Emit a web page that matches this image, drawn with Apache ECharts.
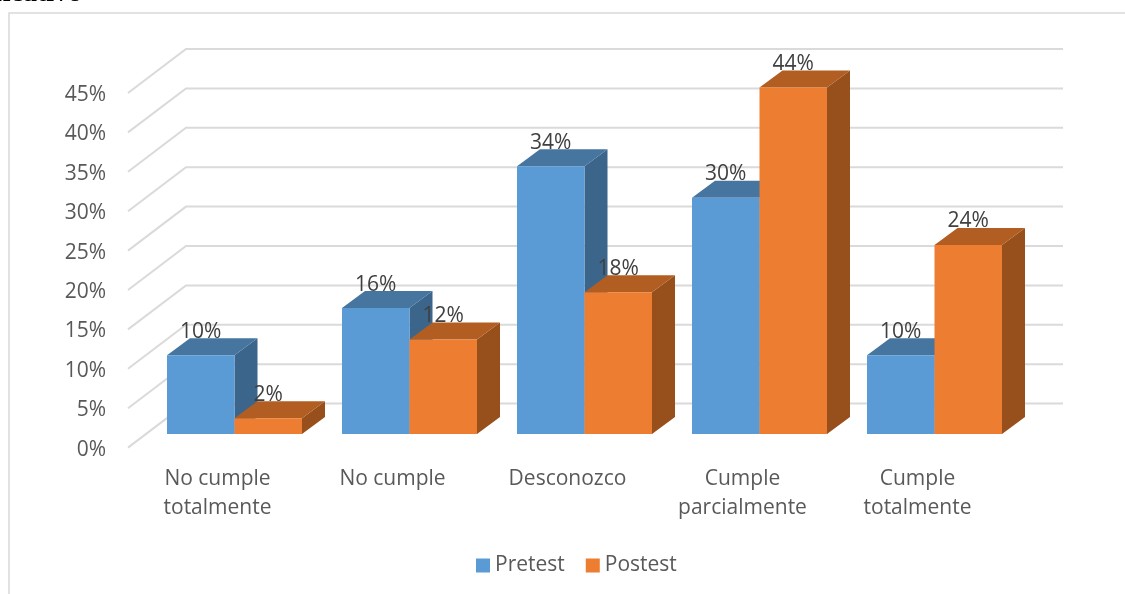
<!DOCTYPE html>
<html><head><meta charset="utf-8">
<style>html,body{margin:0;padding:0;background:#fff}#c{width:1125px;height:594px}</style>
<script src="https://cdn.jsdelivr.net/npm/echarts@6/dist/echarts.min.js"></script>
</head><body><div id="c"></div>
<script>
const categories = ['No cumple\ntotalmente','No cumple','Desconozco','Cumple\nparcialmente','Cumple\ntotalmente'];
const pretest = [10,16,34,30,10];
const postest = [2,12,18,44,24];
const yTicks = [0,5,10,15,20,25,30,35,40,45];
const FONT = '"Open Sans"';
const BLUE = ['#5B9BD5','#4675A0','#3B658B'];
const ORANGE = ['#ED7D31','#B25E22','#974F1B'];

function bar3d(side, colors){
  return function(params, api){
    const base = api.coord([api.value(0), 0]);
    const top = api.coord([api.value(0), api.value(1)]);
    const catW = api.size([1,0])[0];
    const w = catW * 0.3857;
    const sx = 17, sy = -15.5, dx = 23, dy = -17;
    const x0 = base[0] + sx + (side === 0 ? -w : 0);
    const x1 = x0 + w, yb = base[1] + sy, yt = top[1] + sy;
    const poly = (pts, fill) => ({type:'polygon', shape:{points:pts}, style:{fill:fill}});
    return {type:'group', children:[
      poly([[x1,yb],[x1+dx,yb+dy],[x1+dx,yt+dy],[x1,yt]], colors[2]),
      poly([[x0,yt],[x0+dx,yt+dy],[x1+dx,yt+dy],[x1,yt]], colors[1]),
      poly([[x0,yb],[x1,yb],[x1,yt],[x0,yt]], colors[0]),
      {type:'text', z2:50, style:{text:api.value(1)+'%', x:(x0+x1)/2, y:yt-23.5, align:'center', verticalAlign:'middle',
        fill:'#404040', font:'21px '+FONT}}
    ]};
  };
}
function wall(params, api){
  const p = api.coord([0, api.value(1)]);
  const left = params.coordSys.x - 2, right = params.coordSys.x + params.coordSys.width;
  const y0 = p[1] - 2, dx = 58, dy = -44;
  return {type:'polyline', shape:{points:[[left,y0],[left+dx,y0+dy],[right+dx,y0+dy]]},
    style:{stroke:'#DADADA', lineWidth:2, fill:null}};
}
const chart = echarts.init(document.getElementById('c'), null, {renderer:'canvas'});
chart.setOption({
  animation:false,
  backgroundColor:'#fff',
  grid:{left:130,width:875,top:95,height:354.6,containLabel:false},
  xAxis:{type:'category',data:categories,axisLine:{show:false},axisTick:{show:false},
    axisLabel:{interval:0,margin:15,color:'#595959',fontFamily:FONT,fontSize:21,lineHeight:29}},
  yAxis:{type:'value',min:0,max:45,interval:5,axisLine:{show:false},axisTick:{show:false},splitLine:{show:false},
    axisLabel:{margin:24,color:'#595959',fontFamily:FONT,fontSize:21,formatter:'{value}%'}},
  legend:{show:true,left:471,top:550,itemWidth:14,itemHeight:14,itemGap:21,icon:'rect',
    data:['Pretest','Postest'],textStyle:{color:'#595959',fontFamily:FONT,fontSize:21}},
  series:[
    {type:'custom',name:'wall',silent:true,clip:false,z:1,renderItem:wall,data:yTicks.map(v=>[0,v]),encode:{x:0,y:1}},
    {type:'custom',name:'Pretest',clip:false,z:2,itemStyle:{color:BLUE[0]},renderItem:bar3d(0,BLUE),
      data:pretest.map((v,i)=>[i,v]),encode:{x:0,y:1}},
    {type:'custom',name:'Postest',clip:false,z:3,itemStyle:{color:ORANGE[0]},renderItem:bar3d(1,ORANGE),
      data:postest.map((v,i)=>[i,v]),encode:{x:0,y:1}}
  ],
  graphic:[
    {type:'polyline',silent:true,shape:{points:[[9,594],[9,13],[1125,13]]},style:{stroke:'#D9D9D9',lineWidth:1.5,fill:null}},
    {type:'text',silent:true,style:{text:'ficativo',x:82,y:8,align:'right',verticalAlign:'bottom',fill:'#000',
      font:'bold 28px "Liberation Serif"'}}
  ]
});
</script></body></html>
